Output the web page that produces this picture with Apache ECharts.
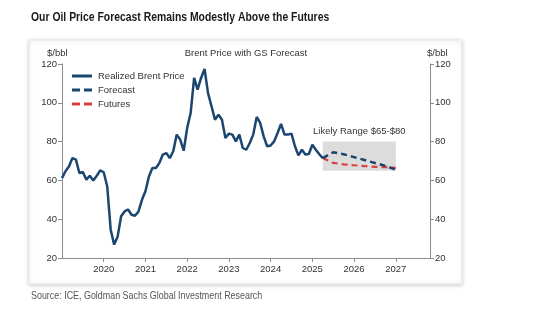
<!DOCTYPE html>
<html>
<head>
<meta charset="utf-8">
<script src="https://cdn.jsdelivr.net/npm/echarts@6/dist/echarts.min.js"></script>
<style>html,body{margin:0;padding:0;background:#fff;}#chart{width:560px;height:321px;}</style>
</head>
<body>
<div id="chart"></div>
<script>
// ---- data ----
const realizedStart = '2019-01';
const realizedValues = [
  61.2, 64.7, 67.2, 71.5, 70.7, 63.8, 64.3, 60.4, 62.4, 60.0, 62.4, 65.2,
  64.2, 57.0, 34.6, 26.9, 31.0, 41.5, 44.0, 45.0, 42.3, 41.8, 44.0, 50.0,
  54.4, 62.0, 66.4, 66.4, 69.0, 73.3, 74.1, 71.5, 75.0, 83.6, 81.0, 75.3,
  87.0, 94.7, 112.8, 106.8, 112.8, 117.4, 105.0, 98.2, 91.3, 93.9, 91.3, 81.9,
  84.1, 83.6, 80.1, 83.6, 76.7, 75.8, 79.3, 83.6, 92.7, 89.6, 82.7, 77.6,
  78.0, 80.1, 84.4, 89.1, 83.6, 83.6, 84.1, 77.6, 72.9, 75.8, 73.3, 73.6,
  78.4, 75.8, 73.5, 71.5
];
const outlookDates = ['2025-04', '2025-07', '2025-10', '2026-01', '2026-04', '2026-07', '2026-10', '2027-01'];
const forecastValues = [71.5, 74.5, 73.5, 72.0, 70.5, 69.0, 67.5, 65.5];
const futuresValues  = [71.5, 69.0, 68.3, 67.8, 67.4, 67.0, 66.8, 66.5];
const rangeStart = '2025-04', rangeEnd = '2027-01';
const rangeLow = 65, rangeHigh = 80;
const yearTicks = [2020, 2021, 2022, 2023, 2024, 2025, 2026, 2027];

function toYear(s) { const [y, m] = s.split('-').map(Number); return y + (m - 1) / 12; }
const startYear = toYear(realizedStart);
const realized = realizedValues.map((v, i) => [startYear + i / 12, v]);
const forecast = outlookDates.map((d, i) => [toYear(d), forecastValues[i]]);
const futures = outlookDates.map((d, i) => [toYear(d), futuresValues[i]]);

const FONT = 'Liberation Sans, Arial, sans-serif';
const BLUE = '#1b4670';
const RED = '#d9413f';

const chart = echarts.init(document.getElementById('chart'), null, {renderer: 'canvas'});
const yAxisCommon = {
  type: 'value', min: 20, max: 120, interval: 20,
  splitLine: {show: false},
  axisLine: {show: true, lineStyle: {color: '#8c8c8c', width: 1}},
  axisTick: {show: true, inside: false, length: 4, lineStyle: {color: '#8c8c8c'}},
  axisLabel: {color: '#333', fontSize: 9.5, fontFamily: FONT, margin: 5}
};
function txt(text, x, y, opts) {
  return Object.assign({
    type: 'text', x: x, y: y, silent: true, z: 10,
    style: Object.assign({text: text, fill: '#333', font: '9.5px ' + FONT, textAlign: 'left', textVerticalAlign: 'middle'}, opts && opts.style || {})
  }, opts && opts.el || {});
}
chart.setOption({
  animation: false,
  backgroundColor: '#fff',
  graphic: [
    {type: 'rect', z: -10, silent: true,
     shape: {x: 29, y: 40, width: 433, height: 244},
     style: {fill: '#fff', stroke: '#e6e6e6', lineWidth: 1, shadowBlur: 4, shadowColor: 'rgba(0,0,0,0.18)', shadowOffsetY: 1}},
    txt('Our Oil Price Forecast Remains Modestly Above the Futures', 31, 17,
        {style: {font: 'bold 13px ' + FONT, fill: '#1a1a1a'}, el: {scaleX: 0.8}}),
    txt('Brent Price with GS Forecast', 246, 53, {style: {textAlign: 'center'}}),
    txt('$/bbl', 47, 53),
    txt('$/bbl', 427, 53),
    txt('Source: ICE, Goldman Sachs Global Investment Research', 31, 296,
        {style: {font: '11px ' + FONT, fill: '#555'}, el: {scaleX: 0.81}})
  ],
  legend: {
    orient: 'vertical', left: 72, top: 71, itemWidth: 20, itemHeight: 3, itemGap: 4, padding: 0,
    textStyle: {fontFamily: FONT, fontSize: 9.5, color: '#333', padding: [0, 0, 0, 1]},
    data: [
      {name: 'Realized Brent Price', icon: 'path://M0,0H20V3H0Z'},
      {name: 'Forecast', icon: 'path://M0,0H8V3H0Z M12,0H20V3H12Z'},
      {name: 'Futures', icon: 'path://M0,0H8V3H0Z M12,0H20V3H12Z'}
    ]
  },
  grid: {left: 62, right: 130, top: 64, height: 194, containLabel: false},
  xAxis: {
    type: 'value', min: 2019, max: 2027.82, interval: 1,
    splitLine: {show: false},
    axisLine: {show: true, lineStyle: {color: '#8c8c8c'}},
    axisTick: {show: true, length: 4, lineStyle: {color: '#8c8c8c'}},
    axisLabel: {color: '#333', fontSize: 9.5, fontFamily: FONT, margin: 6,
      showMinLabel: false, showMaxLabel: false,
      formatter: v => yearTicks.includes(Math.round(v)) ? String(Math.round(v)) : ''}
  },
  yAxis: [
    Object.assign({position: 'left'}, yAxisCommon),
    Object.assign({position: 'right'}, yAxisCommon)
  ],
  series: [
    {name: 'Realized Brent Price', type: 'line', data: realized, symbol: 'none', z: 5,
     lineStyle: {color: BLUE, width: 2.5}, itemStyle: {color: BLUE}},
    {name: 'Forecast', type: 'line', data: forecast, symbol: 'none', z: 5,
     lineStyle: {color: BLUE, width: 2.5, type: [6, 4]}, itemStyle: {color: BLUE},
     markArea: {silent: true,
       itemStyle: {color: '#dcdcdc'},
       label: {show: true, position: 'top', distance: 5, color: '#333', fontSize: 9.5, fontFamily: FONT},
       data: [[{name: 'Likely Range $65-$80', coord: [toYear(rangeStart), rangeHigh]}, {coord: [toYear(rangeEnd), rangeLow]}]]}},
    {name: 'Futures', type: 'line', data: futures, symbol: 'none', z: 4,
     lineStyle: {color: RED, width: 2.2, type: [6, 4]}, itemStyle: {color: RED}}
  ]
});
</script>
</body>
</html>
